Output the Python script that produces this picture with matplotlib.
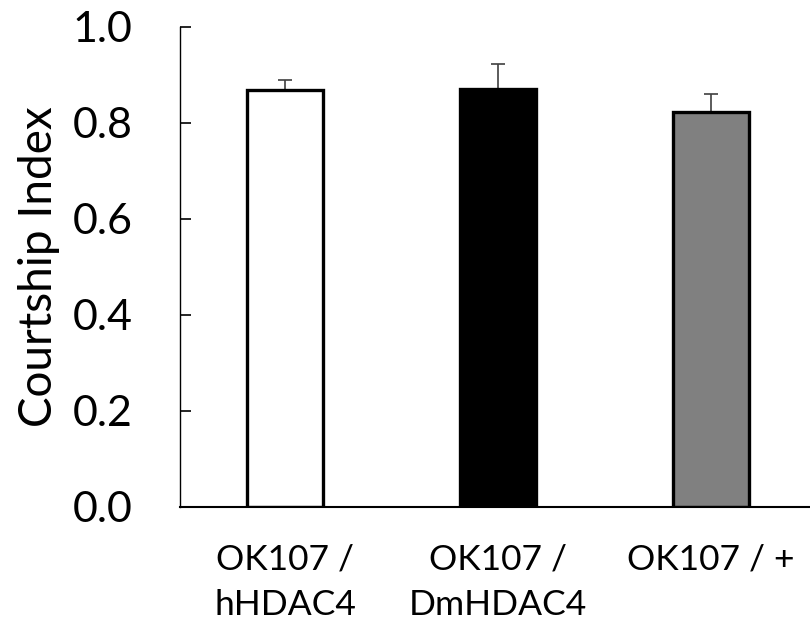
import matplotlib
matplotlib.use("Agg")
import matplotlib.pyplot as plt

categories = ["OK107 /\nhHDAC4", "OK107 /\nDmHDAC4", "OK107 / +"]
values = [0.869, 0.871, 0.823]
errors = [0.020, 0.052, 0.037]
colors = ["#ffffff", "#000000", "#808080"]
yticks = [0.0, 0.2, 0.4, 0.6, 0.8, 1.0]

plt.rcParams['font.family'] = ['Lato', 'DejaVu Sans']

fig = plt.figure(figsize=(8.10, 6.31), dpi=100)
ax = fig.add_axes([180/810, 124/631, 630/810, 480/631])

x = list(range(len(categories)))
ax.bar(x, values, width=0.36, color=colors, edgecolor="black", linewidth=2.4, zorder=2)
ax.errorbar(x, values, yerr=[[0]*len(values), errors], fmt="none", ecolor="#404040",
            elinewidth=1.2, capsize=5, capthick=1.2, zorder=1)

ax.set_xlim(-0.493, 2.465)
ax.set_ylim(0, 1.0)
ax.set_yticks(yticks)
ax.set_yticklabels([f"{t:.1f}" for t in yticks], fontsize=31)
ax.set_xticks(x)
ax.set_xticklabels(categories, fontsize=25.5, linespacing=1.55)
ax.tick_params(axis='x', length=0, pad=26)
ax.tick_params(axis='y', direction='in', length=8, width=1.2, pad=34)
ax.spines['top'].set_visible(False)
ax.spines['right'].set_visible(False)
ax.spines['left'].set_linewidth(1.0)
ax.spines['bottom'].set_linewidth(1.5)
ax.set_ylabel("Courtship Index", fontsize=33, labelpad=9)

fig.savefig("out.png", dpi=100)
